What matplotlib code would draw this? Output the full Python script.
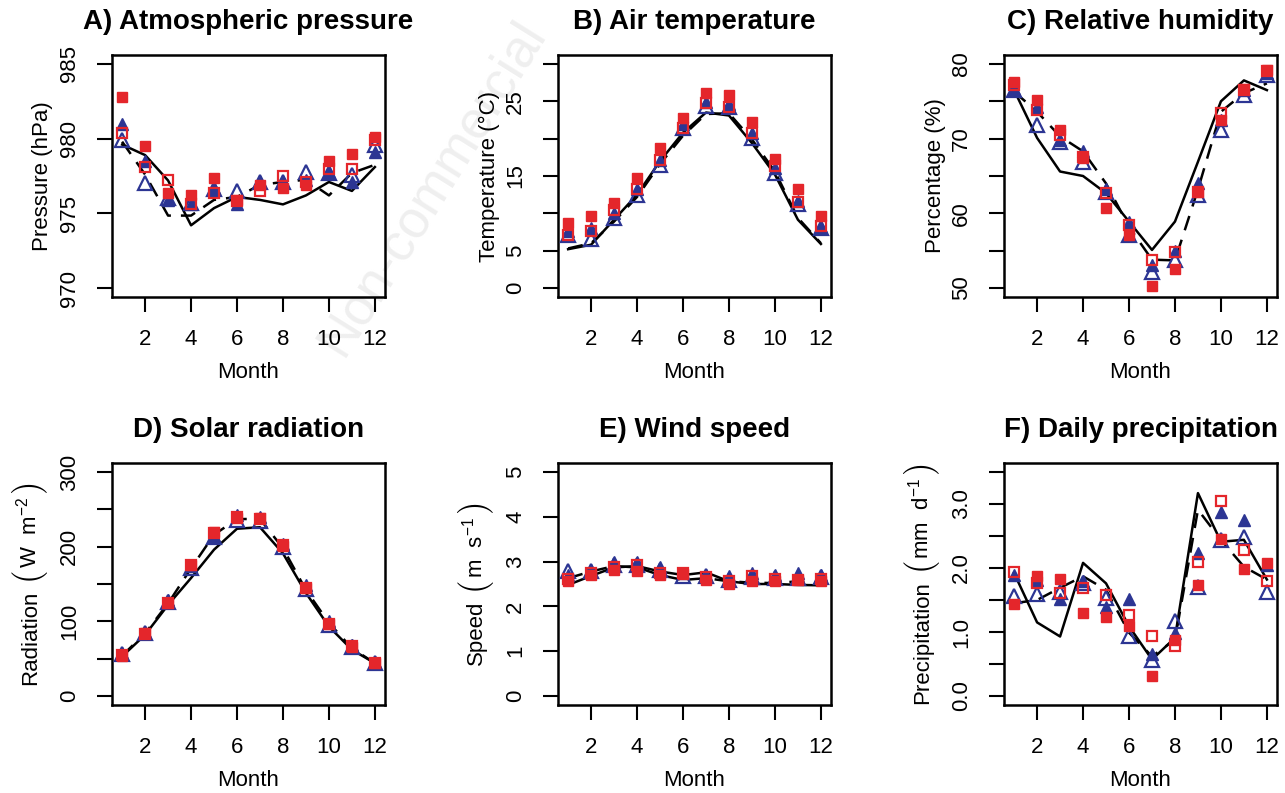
import numpy as np
import matplotlib
matplotlib.use("Agg")
import matplotlib.pyplot as plt

plt.rcParams['font.family'] = ['Liberation Sans', 'DejaVu Sans']
plt.rcParams['mathtext.fontset'] = 'custom'
plt.rcParams['mathtext.rm'] = 'Liberation Sans'
plt.rcParams['mathtext.it'] = 'Liberation Sans:italic'
plt.rcParams['mathtext.bf'] = 'Liberation Sans:bold'

months = np.arange(1, 13)

# A) atmospheric pressure (hPa)
pres_solid = [979.6, 978.9, 977.2, 974.2, 975.35, 976.1, 975.9, 975.6, 976.2, 977.1, 976.5, 978.1]
pres_dash = [979.8, 977.6, 974.85, 974.85, 975.9, 976.1, 976.9, 977.1, 977.25, 976.2, 977.7, 978.25]
pres_red_fill = [982.8, 979.5, 976.35, 976.2, 977.35, 975.9, 976.9, 976.7, 976.9, 978.5, 979.0, 980.1]
pres_red_open = [980.4, 978.1, 977.2, 975.6, 976.35, 975.8, 976.5, 977.5, 977.1, 978.0, 978.0, 979.9]
pres_blue_fill = [981.0, 978.5, 975.9, 975.6, 976.7, 975.6, 977.1, 977.1, 977.2, 977.8, 977.1, 979.1]
pres_blue_open = [979.9, 977.0, 976.0, 975.7, 976.6, 976.5, 977.1, 977.1, 977.8, 977.7, 977.6, 979.6]

# B) air temperature (C)
temp_solid = [5.2, 5.8, 9.15, 12.5, 17.0, 20.8, 23.5, 23.1, 19.4, 15.2, 9.15, 5.9]
temp_dash = [5.3, 6.0, 8.9, 12.2, 16.6, 20.4, 23.3, 23.4, 19.9, 15.6, 9.4, 6.0]
temp_red_fill = [8.7, 9.7, 11.4, 14.7, 18.75, 22.7, 26.1, 25.9, 22.2, 17.3, 13.2, 9.7]
temp_red_open = [7.1, 7.6, 10.5, 13.2, 17.2, 21.4, 24.8, 24.3, 20.8, 16.3, 11.5, 8.3]
temp_blue_fill = [7.6, 8.0, 10.0, 13.2, 17.2, 21.9, 24.9, 24.7, 20.8, 16.1, 11.6, 8.2]
temp_blue_open = [7.1, 6.6, 9.4, 12.5, 16.5, 21.4, 24.4, 24.3, 20.1, 15.4, 11.2, 8.0]

# C) relative humidity (%)
hum_solid = [76.5, 70.1, 65.6, 65.0, 62.7, 58.9, 55.1, 58.9, 66.9, 75.0, 77.8, 76.5]
hum_dash = [76.3, 73.6, 70.3, 68.3, 64.0, 58.2, 53.8, 53.7, 63.2, 73.6, 76.1, 77.4]
hum_red_fill = [77.6, 75.2, 71.2, 67.4, 60.7, 57.1, 50.3, 52.5, 62.9, 72.5, 76.7, 79.2]
hum_red_open = [77.2, 73.9, 70.5, 67.6, 62.7, 58.5, 53.7, 54.8, 62.9, 73.4, 76.5, 79.1]
hum_blue_fill = [76.7, 74.3, 69.8, 68.3, 63.2, 58.9, 53.1, 54.9, 64.0, 72.5, 76.5, 78.8]
hum_blue_open = [76.5, 71.8, 69.6, 66.9, 62.9, 57.1, 52.1, 53.8, 62.5, 71.2, 75.9, 78.5]

# D) solar radiation (W m-2)
rad_solid = [53, 82, 122, 158, 196, 224, 226, 191, 138, 93, 62, 44]
rad_dash = [54, 84, 124, 171, 216, 237, 237, 198, 142, 98, 64, 44]
rad_red_fill = [54, 84, 124, 176, 219, 239, 238, 201, 145, 96, 66, 44]
rad_red_open = [55, 83, 125, 175, 218, 240, 237, 202, 144, 97, 67, 44]
rad_blue_fill = [58, 86, 128, 174, 214, 242, 240, 204, 148, 100, 69, 46]
rad_blue_open = [56, 84, 126, 171, 213, 236, 234, 199, 143, 95, 66, 44]

# E) wind speed (m s-1)
wind_solid = [2.48, 2.68, 2.87, 2.90, 2.78, 2.70, 2.76, 2.56, 2.50, 2.50, 2.48, 2.47]
wind_dash = [2.63, 2.78, 2.90, 2.87, 2.70, 2.59, 2.63, 2.56, 2.53, 2.52, 2.56, 2.52]
wind_red_fill = [2.56, 2.70, 2.81, 2.78, 2.70, 2.73, 2.59, 2.50, 2.56, 2.56, 2.59, 2.56]
wind_red_open = [2.61, 2.74, 2.87, 2.93, 2.74, 2.74, 2.65, 2.56, 2.67, 2.61, 2.59, 2.61]
wind_blue_fill = [2.70, 2.81, 2.98, 3.00, 2.87, 2.74, 2.70, 2.67, 2.74, 2.70, 2.74, 2.70]
wind_blue_open = [2.80, 2.78, 2.93, 2.93, 2.81, 2.67, 2.67, 2.59, 2.65, 2.63, 2.63, 2.65]

# F) daily precipitation (mm d-1)
prec_solid = [1.92, 1.15, 0.93, 2.08, 1.76, 1.09, 0.57, 0.91, 3.17, 2.41, 2.44, 1.82]
prec_dash = [1.45, 1.50, 1.69, 1.87, 1.66, 0.99, 0.62, 0.88, 2.91, 2.44, 2.02, 1.82]
prec_red_fill = [1.44, 1.88, 1.83, 1.30, 1.23, 1.09, 0.31, 0.88, 1.74, 2.46, 1.98, 2.08]
prec_red_open = [1.93, 1.77, 1.61, 1.69, 1.58, 1.26, 0.94, 0.78, 2.10, 3.05, 2.28, 1.79]
prec_blue_fill = [1.89, 1.82, 1.52, 1.79, 1.39, 1.52, 0.65, 0.99, 2.23, 2.88, 2.75, 2.05]
prec_blue_open = [1.56, 1.60, 1.63, 1.76, 1.53, 0.93, 0.57, 1.17, 1.71, 2.44, 2.49, 1.63]

RED = '#e4262b'
BLUE = '#2c3593'

W, H = 1285, 793
fig = plt.figure(figsize=(W / 100, H / 100), dpi=100)
renderer = fig.canvas.get_renderer()


def unit_label(left, top, name, unit):
    # vertical label "name (unit)" with tall thin brackets, built piece by piece
    # (text, fontsize, baseline shift in px, gap after in px)
    pieces = [(name, 16, 0, 7), (r'$($', 25, 3, 2), (unit, 16, 0, 2), (r'$)$', 25, 3, 0)]
    base_x = left - 76
    texts, lengths = [], []
    for s, fs, shift, gap in pieces:
        t = fig.text(0, 0, s, fontsize=fs, rotation=90, rotation_mode='anchor',
                     ha='left', va='baseline')
        if s in (r'$($', r'$)$'):
            t.set_math_fontfamily('cm')
        lengths.append(t.get_window_extent(renderer).height + gap)
        texts.append(t)
    total = sum(lengths)
    y = (H - (top + 121)) - total / 2
    for t, (s, fs, shift, gap), ln in zip(texts, pieces, lengths):
        t.set_position(((base_x + shift) / W, y / H))
        y += ln


def panel(left, top, title, ylabel, series, ylim, yticks, ylabels):
    ax = fig.add_axes([left / W, 1 - (top + 242) / H, 273 / W, 242 / H])
    ax.patch.set_visible(False)
    solid, dash, rf, ro, bf, bo = series
    ax.plot(months, solid, color='black', lw=1.8, zorder=2)
    ax.plot(months, dash, color='black', lw=1.8, dashes=(6, 4), zorder=2)
    ax.plot(months, bo, ls='none', marker='^', ms=10, mfc='none', mec=BLUE, mew=1.6, zorder=3)
    ax.plot(months, bf, ls='none', marker='^', ms=8.5, color=BLUE, zorder=3)
    ax.plot(months, ro, ls='none', marker='s', ms=7.5, mfc='none', mec=RED, mew=1.6, zorder=4)
    ax.plot(months, rf, ls='none', marker='s', ms=6.5, color=RED, zorder=4)

    pad = 0.04 * (ylim[1] - ylim[0])
    ax.set_ylim(ylim[0] - pad, ylim[1] + pad)
    ax.set_xlim(1 - 0.44, 12 + 0.44)
    ax.set_xticks([2, 4, 6, 8, 10, 12])
    ax.set_yticks(yticks)
    ax.set_yticklabels(ylabels)
    for t in ax.get_yticklabels():
        t.set_rotation(90)
        t.set_va('center')
    ax.tick_params(direction='out', length=11, width=1.5, pad=12, labelsize=16)
    for s in ax.spines.values():
        s.set_linewidth(1.8)

    ax.text(0.5, 1 + 33 / 242, title, transform=ax.transAxes, ha='center', va='center',
            fontsize=20, fontweight='bold')
    ax.set_xlabel('Month', fontsize=16, va='center')
    ax.xaxis.set_label_coords(0.5, -76 / 242)
    if isinstance(ylabel, tuple):
        unit_label(left, top, *ylabel)
    else:
        ax.set_ylabel(ylabel, fontsize=16, va='center')
        ax.yaxis.set_label_coords(-69 / 273, 0.5)
    return ax


panel(112, 55, 'A) Atmospheric pressure', 'Pressure (hPa)',
      [pres_solid, pres_dash, pres_red_fill, pres_red_open, pres_blue_fill, pres_blue_open],
      (970, 985), [970, 975, 980, 985], ['970', '975', '980', '985'])
panel(558, 55, 'B) Air temperature', 'Temperature (°C)',
      [temp_solid, temp_dash, temp_red_fill, temp_red_open, temp_blue_fill, temp_blue_open],
      (0, 30), [0, 5, 10, 15, 20, 25, 30], ['0', '5', '', '15', '', '25', ''])
panel(1004, 55, 'C) Relative humidity', 'Percentage (%)',
      [hum_solid, hum_dash, hum_red_fill, hum_red_open, hum_blue_fill, hum_blue_open],
      (50, 80), [50, 55, 60, 65, 70, 75, 80], ['50', '', '60', '', '70', '', '80'])
panel(112, 463, 'D) Solar radiation', ('Radiation', r'$\mathrm{W\ \ m^{-2}}$'),
      [rad_solid, rad_dash, rad_red_fill, rad_red_open, rad_blue_fill, rad_blue_open],
      (0, 300), [0, 50, 100, 150, 200, 250, 300], ['0', '', '100', '', '200', '', '300'])
panel(558, 463, 'E) Wind speed', ('Speed', r'$\mathrm{m\ \ s^{-1}}$'),
      [wind_solid, wind_dash, wind_red_fill, wind_red_open, wind_blue_fill, wind_blue_open],
      (0, 5), [0, 1, 2, 3, 4, 5], ['0', '1', '2', '3', '4', '5'])
panel(1004, 463, 'F) Daily precipitation', ('Precipitation', r'$\mathrm{mm\ \ d^{-1}}$'),
      [prec_solid, prec_dash, prec_red_fill, prec_red_open, prec_blue_fill, prec_blue_open],
      (0, 3.5), [0, 0.5, 1, 1.5, 2, 2.5, 3, 3.5],
      ['0.0', '', '1.0', '', '2.0', '', '3.0', ''])

# faint watermark behind the top row
fig.text(330 / W, 1 - 350 / H, 'Non-commercial', rotation=58, rotation_mode='anchor',
         ha='left', va='center', fontsize=38, color='#efefef', zorder=-5)

fig.savefig('out.png', dpi=100)
